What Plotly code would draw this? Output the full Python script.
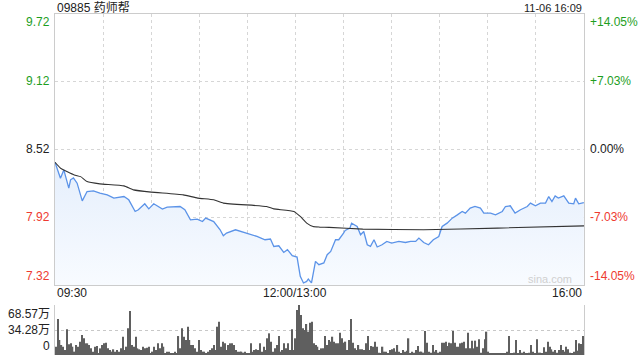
import plotly.graph_objects as go

# ---------------- data ----------------
title_text = "09885 药师帮"
stamp_text = "11-06 16:09"
prev_close = 8.52

# minute offsets from 09:30 (trading minutes, lunch removed) and prices
price_min = [0, 3.4, 5.5, 7, 8.6, 9.7, 11.5, 13.8, 17, 20, 24, 28, 32.6, 36.7, 43, 46, 50, 52, 56, 58.5,
             61.6, 67, 70, 78, 81, 84.5, 88.7, 92, 94, 99, 103, 105, 107, 112.6, 120, 126, 131, 134.4,
             136.5, 139.6, 142.7, 145, 148, 151, 153, 155, 157, 158, 160, 162.5, 164.6, 167.7, 169.8,
             172, 175, 177, 180, 181, 184, 185, 188.5, 190.6, 192.6, 194.8, 196.8, 199, 201, 204, 207,
             210, 214.5, 218.6, 221.8, 225, 227, 230, 233, 236, 239.4, 241.5, 244.6, 247.8, 251, 254,
             256, 259, 262, 265.4, 267.5, 271.7, 274.8, 279, 281, 284, 287, 290.4, 294.6, 296.6, 299.7,
             302.8, 306, 308, 310, 312, 314, 317.4, 320.5, 323.6, 324.7, 326.7, 329.9]
price = [8.405, 8.264, 8.337, 8.25, 8.176, 8.25, 8.267, 8.22, 8.064, 8.146, 8.152, 8.132, 8.117, 8.088,
         8.102, 8.073, 7.97, 7.985, 8.038, 7.993, 8.038, 7.991, 8.008, 8.014, 7.985, 7.896, 7.902, 7.881,
         7.911, 7.881, 7.808, 7.755, 7.779, 7.808, 7.779, 7.749, 7.72, 7.726, 7.661, 7.667, 7.608, 7.632,
         7.579, 7.567, 7.396, 7.338, 7.352, 7.373, 7.338, 7.529, 7.50, 7.515, 7.588, 7.617, 7.72, 7.72,
         7.779, 7.802, 7.823, 7.867, 7.837, 7.764, 7.793, 7.676, 7.661, 7.72, 7.656, 7.676, 7.705, 7.691,
         7.705, 7.696, 7.705, 7.705, 7.735, 7.696, 7.676, 7.72, 7.749, 7.837, 7.867, 7.911, 7.94, 7.97,
         7.955, 8.0, 8.014, 8.0, 7.955, 7.955, 7.94, 7.97, 8.014, 8.02, 7.955, 7.985, 8.014, 8.044, 8.02,
         8.044, 8.044, 8.102, 8.058, 8.108, 8.088, 8.108, 8.044, 8.038, 8.088, 8.038, 8.049]

avg_min = [0, 3.5, 12, 16, 20, 28, 43, 49, 60, 80, 89, 99, 105, 132, 136.5, 149, 153, 157, 161, 165,
           171, 192, 230, 276, 330]
avg_price = [8.405, 8.352, 8.293, 8.278, 8.234, 8.214, 8.196, 8.161, 8.141, 8.117, 8.088, 8.073, 8.044,
             8.014, 7.993, 7.97, 7.926, 7.867, 7.837, 7.832, 7.829, 7.814, 7.808, 7.823, 7.843]

# volume per bar, in 万 shares
volume = [11.4, 49.4, 20.6, 13.7, 11.4, 6.9, 35.2, 14.6, 16.0, 11.4, 4.6, 13.7, 11.4, 18.3, 27.4, 22.9,
          16.0, 16.0, 13.7, 9.1, 4.6, 11.4, 12.3, 2.3, 9.1, 13.7, 16.0, 16.9, 9.1, 6.9, 4.6, 7.8, 4.6,
          6.9, 4.6, 9.1, 25.1, 6.9, 11.4, 36.6, 60.3, 13.7, 11.4, 25.1, 9.1, 7.8, 6.9, 11.4, 9.1, 10.1,
          11.4, 2.3, 4.6, 11.4, 6.9, 16.0, 9.1, 16.0, 11.4, 2.3, 4.6, 4.6, 2.3, 2.3, 4.6, 2.3, 26.0, 9.1,
          36.6, 25.1, 20.6, 38.8, 20.6, 13.7, 13.7, 9.1, 4.6, 20.6, 6.9, 4.6, 4.6, 2.3, 4.6, 6.9, 9.1,
          13.7, 6.9, 38.8, 45.7, 11.4, 18.3, 16.0, 6.9, 13.7, 16.0, 16.0, 13.7, 6.9, 4.6, 4.6, 4.6, 3.2,
          4.6, 2.3, 2.3, 16.0, 4.6, 6.9, 7.8, 6.9, 16.0, 4.6, 11.4, 6.9, 22.9, 29.7, 18.3, 4.6, 9.1, 13.7,
          26.0, 4.6, 6.9, 16.0, 9.1, 16.0, 6.9, 35.2, 6.9, 22.9, 61.7, 68.57, 54.8, 36.6, 34.3, 42.5, 32.0,
          44.3, 45.7, 16.0, 13.7,
          11.4, 6.9, 9.1, 9.1, 26.0, 13.7, 20.6, 18.3, 25.1, 18.3, 16.0, 16.0, 30.6, 22.9, 16.9, 18.3,
          6.9, 20.6, 49.4, 16.9, 9.1, 6.9, 13.7, 7.8, 7.8, 6.9, 16.0, 26.0, 6.9, 12.3, 11.4, 18.3, 11.4,
          3.2, 2.3, 11.4, 4.6, 4.6, 2.3, 6.9, 7.8, 9.1, 4.6, 13.7, 4.6, 2.3, 6.9, 4.6, 5.9, 22.9, 2.3,
          4.6, 3.2, 6.9, 12.3, 4.6, 4.6, 3.2, 32.9, 16.9, 4.6, 3.2, 13.7, 4.6, 6.9, 3.2, 4.6, 16.9, 16.9,
          18.3, 12.3, 16.9, 16.0, 32.9, 16.9, 11.4, 11.4, 16.0, 16.9, 18.3, 9.1, 30.6, 9.1, 19.7, 9.1,
          19.7, 11.4, 21.5, 3.2, 9.1, 21.5, 32.0, 4.6, 1.4, 1.4, 1.4, 2.3, 2.3, 2.3, 1.4, 1.4, 2.3, 4.6,
          26.0, 1.4, 2.3, 3.2, 20.6, 2.3, 6.9, 3.2, 4.6, 2.3, 2.3, 3.2, 13.7, 4.6, 2.3, 21.5, 3.2, 3.2,
          2.3, 10.5, 4.6, 18.3, 11.4, 7.8, 4.6, 6.9, 3.2, 6.9, 13.7, 6.9, 4.6, 11.4, 7.8, 3.2, 2.3, 4.6,
          20.6, 5.9, 16.0, 15.1, 26.0]

price_ticks = [9.72, 9.12, 8.52, 7.92, 7.32]
pct_ticks = ["+14.05%", "+7.03%", "0.00%", "-7.03%", "-14.05%"]
vol_ticks = [68.57, 34.28, 0]
vol_labels = ["68.57万", "34.28万", "0"]
time_ticks = [0, 150, 330]
time_labels = ["09:30", "12:00/13:00", "16:00"]
grid_minutes = list(range(30, 330, 30))

# ---------------- styles ----------------
FONT = "Arial, 'Liberation Sans', 'Noto Sans CJK SC', sans-serif"
GREEN = "#1e9e1e"
RED = "#ee3a30"
BLACK = "#222222"
BORDER = "#cccccc"
GRID = "#d6d6d6"

def tick_color(v):
    if v > prev_close + 1e-9:
        return GREEN
    if v < prev_close - 1e-9:
        return RED
    return BLACK

fig = go.Figure()

fig.add_trace(go.Scatter(
    x=price_min, y=price, mode="lines",
    line=dict(color="#5b93e8", width=1.3),
    fill="tozeroy",
    fillgradient=dict(type="vertical", start=7.32, stop=8.45,
                      colorscale=[[0, "rgba(248,251,255,1)"], [1, "rgba(228,238,252,1)"]]),
    xaxis="x", yaxis="y", hoverinfo="skip", showlegend=False))

fig.add_trace(go.Scatter(
    x=avg_min, y=avg_price, mode="lines",
    line=dict(color="#333333", width=1.1, shape="spline", smoothing=0.4),
    xaxis="x", yaxis="y", hoverinfo="skip", showlegend=False))

fig.add_trace(go.Bar(
    x=list(range(len(volume))), y=volume,
    marker=dict(color="#5f5f5f", line=dict(width=0)),
    xaxis="x2", yaxis="y2", hoverinfo="skip", showlegend=False))

x_dom = [55 / 640, 584 / 640]
fig.update_layout(
    width=640, height=360,
    margin=dict(l=0, r=0, t=0, b=0),
    paper_bgcolor="white", plot_bgcolor="white",
    font=dict(family=FONT, size=12, color=BLACK),
    bargap=0.3,
    xaxis=dict(domain=x_dom, range=[0, 330], showticklabels=False, tickvals=grid_minutes,
               showgrid=True, gridcolor=GRID, griddash="dot", gridwidth=1,
               showline=True, linecolor=BORDER, linewidth=1, mirror=True, zeroline=False,
               ticks="", fixedrange=True),
    yaxis=dict(domain=[75 / 360, 346.5 / 360], range=[7.32, 9.72], showticklabels=False,
               tickvals=[9.12, 8.52, 7.92], showgrid=True, gridcolor=GRID, griddash="dot",
               showline=True, linecolor=BORDER, linewidth=1, mirror=True, zeroline=False,
               ticks="", fixedrange=True),
    xaxis2=dict(domain=x_dom, range=[-0.5, len(volume) - 0.5], showticklabels=False,
                showgrid=False, showline=False, zeroline=False, ticks="", anchor="y2"),
    yaxis2=dict(domain=[5 / 360, 55 / 360], range=[0, 68.57], showticklabels=False,
                tickvals=[34.28, 68.57], showgrid=True, gridcolor="#c8c8c8", griddash="dot",
                showline=True, linecolor=BORDER, linewidth=1, mirror=True, zeroline=False,
                ticks="", anchor="x2"),
)

ann = []
# header
ann.append(dict(text=title_text, xref="paper", yref="paper", x=55 / 640, y=1 - 7.5 / 360,
                xanchor="left", yanchor="middle", showarrow=False,
                font=dict(size=12, color=BLACK)))
ann.append(dict(text=stamp_text, xref="paper", yref="paper", x=584 / 640, y=1 - 7.5 / 360,
                xanchor="right", yanchor="middle", showarrow=False,
                font=dict(size=11, color=BLACK)))
# price / pct labels
for i, (v, p) in enumerate(zip(price_ticks, pct_ticks)):
    ya = "top" if i == 0 else ("bottom" if i == len(price_ticks) - 1 else "middle")
    c = tick_color(v)
    ann.append(dict(text=f"{v:.2f}", xref="paper", yref="y", x=52 / 640, y=v,
                    xanchor="right", yanchor=ya, showarrow=False, font=dict(size=12, color=c)))
    ann.append(dict(text=p, xref="paper", yref="y", x=588 / 640, y=v,
                    xanchor="left", yanchor=ya, showarrow=False, font=dict(size=12, color=c)))
# time labels
for t, lab in zip(time_ticks, time_labels):
    xa = "left" if t == time_ticks[0] else ("right" if t == time_ticks[-1] else "center")
    ann.append(dict(text=lab, xref="x", yref="paper", x=t, y=1 - 293 / 360,
                    xanchor=xa, yanchor="middle", showarrow=False,
                    font=dict(size=12, color=BLACK)))
# volume labels
for i, (v, lab) in enumerate(zip(vol_ticks, vol_labels)):
    ya = "top" if i == 0 else ("bottom" if i == len(vol_ticks) - 1 else "middle")
    ann.append(dict(text=lab, xref="paper", yref="y2", x=52 / 640, y=v,
                    xanchor="right", yanchor=ya, showarrow=False,
                    font=dict(size=12, color=BLACK)))
# watermark
ann.append(dict(text="sina.com", xref="paper", yref="paper", x=574 / 640, y=1 - 279 / 360,
                xanchor="right", yanchor="middle", showarrow=False,
                font=dict(size=11, color="#d0d0d0")))
fig.update_layout(annotations=ann)

fig.write_html("out.html")
